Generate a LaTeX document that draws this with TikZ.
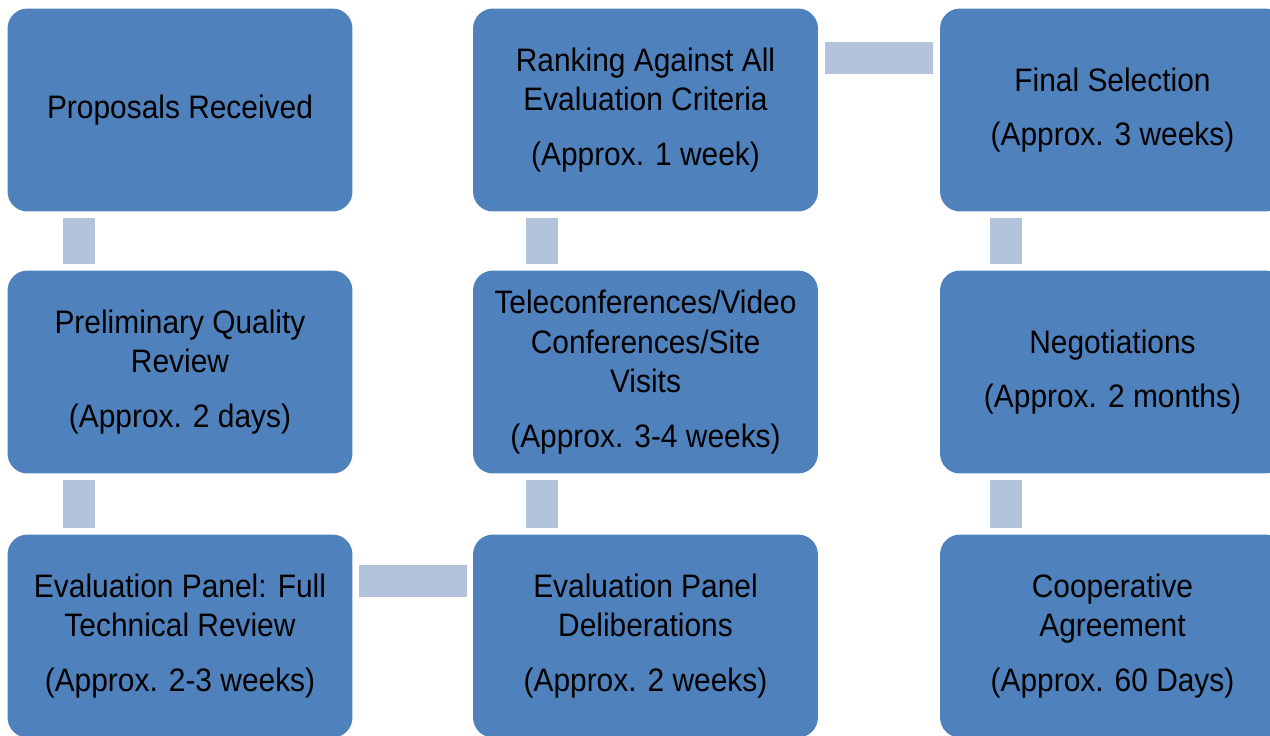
\documentclass[tikz,border=0pt]{standalone}
\usepackage{fontspec}
\setmainfont{Liberation Sans}[FakeStretch=0.92]
\usetikzlibrary{calc}

\definecolor{boxblue}{RGB}{79,129,189}
\definecolor{linkblue}{RGB}{179,195,220}

\tikzset{
  stage/.style={rectangle,rounded corners=0.4cm,fill=boxblue,minimum width=6.9cm,minimum height=4.06cm,inner sep=0pt,align=center,text=black,font=\fontsize{18.5pt}{22.7pt}\selectfont},
  link/.style={draw=linkblue,line width=0.64cm}
}

\begin{document}
\begin{tikzpicture}[x=0.02cm,y=-0.02cm]
\useasboundingbox (0,0) rectangle (1270,735);
\clip (0,0) rectangle (1270,735);

\node[stage] (PR) at (180,110) {Proposals Received};
\node[stage] (PQR) at (180,372) {Preliminary Quality\\Review\\[8.5pt](Approx. 2 days)};
\node[stage] (EP) at (180,636) {Evaluation Panel: Full\\Technical Review\\[8.5pt](Approx. 2-3 weeks)};
\node[stage] (EPD) at (645.5,636) {Evaluation Panel\\Deliberations\\[8.5pt](Approx. 2 weeks)};
\node[stage] (TVC) at (645.5,372) {Teleconferences/Video\\Conferences/Site\\Visits\\[8.5pt](Approx. 3-4 weeks)};
\node[stage] (RAC) at (645.5,110) {Ranking Against All\\Evaluation Criteria\\[8.5pt](Approx. 1 week)};
\node[stage] (FS) at (1112.5,110) {Final Selection\\[8.5pt](Approx. 3 weeks)};
\node[stage] (NEG) at (1112.5,372) {Negotiations\\[8.5pt](Approx. 2 months)};
\node[stage] (CA) at (1112.5,636) {Cooperative\\Agreement\\[8.5pt](Approx. 60 Days)};

\foreach \a/\b/\o in {PR/PQR/72,PQR/EP/72,RAC/TVC/69,TVC/EPD/69,FS/NEG/66,NEG/CA/66} {
  \draw[link] ($(\a.south west)+(\o,6)$) -- ($(\b.north west)+(\o,-6)$);
}

\draw[link] ($(EP.north east)+(6,47)$) -- ($(EPD.north west)+(-6,47)$);
\draw[link] ($(RAC.north east)+(7,50)$) -- ($(FS.north west)+(-7,50)$);
\end{tikzpicture}
\end{document}
